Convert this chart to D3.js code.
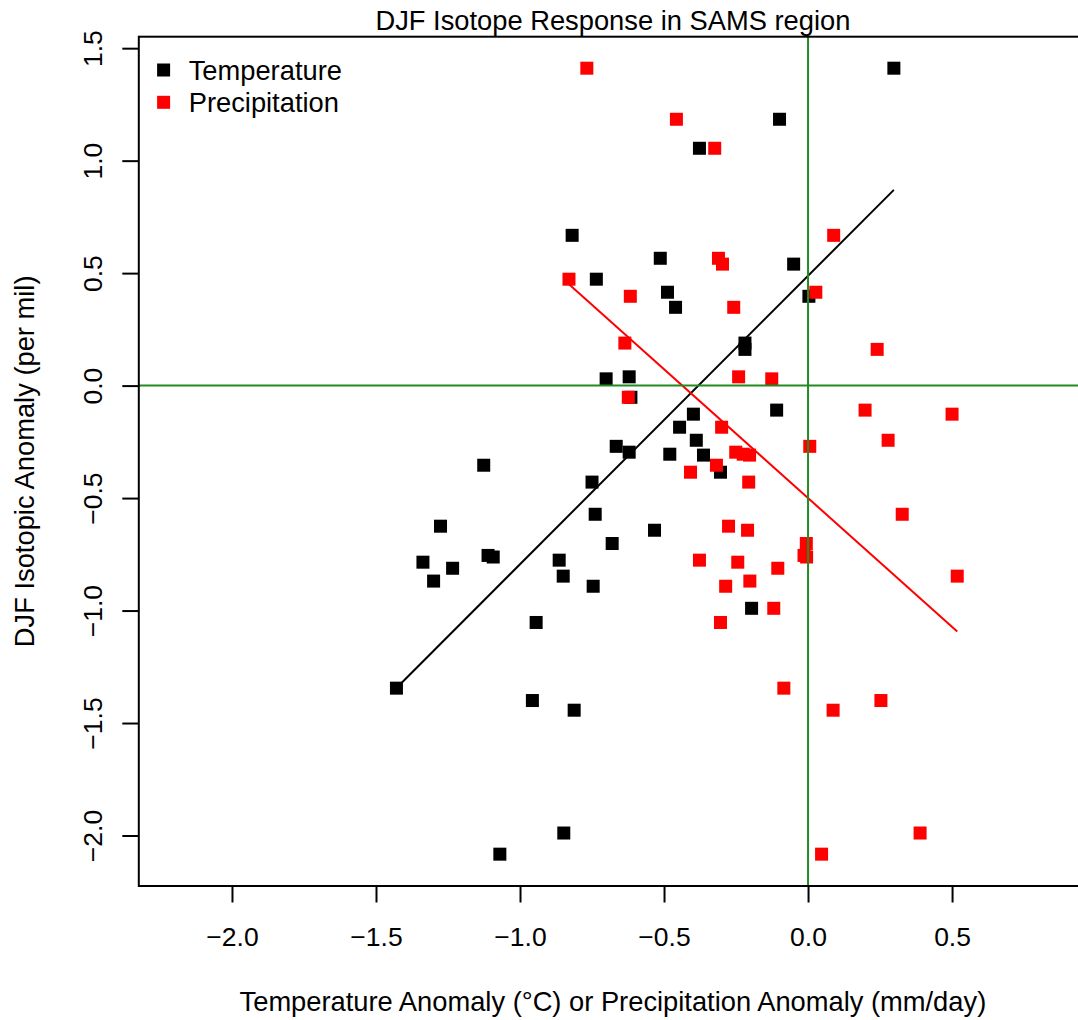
<!DOCTYPE html>
<html>
<head>
<meta charset="utf-8">
<script src="https://cdn.jsdelivr.net/npm/d3@7"></script>
<style>
  html, body { margin: 0; padding: 0; background: #fff; }
  svg { display: block; }
  text { font-family: "Liberation Sans", Arial, Helvetica, sans-serif; fill: #000; }
</style>
</head>
<body>
<svg id="chart" width="1078" height="1020"></svg>
<script>
// ---- data ----
const isotopeAnom = [1.411, 1.184, 1.055, 0.668, 0.566, 0.540, 0.473, 0.415, 0.397, 0.348,
  0.189, 0.161, 0.039, 0.030, -0.052, -0.109, -0.127, -0.185, -0.243, -0.270,
  -0.296, -0.305, -0.309, -0.354, -0.385, -0.429, -0.572, -0.625, -0.643, -0.702,
  -0.755, -0.762, -0.776, -0.785, -0.812, -0.847, -0.869, -0.892, -0.990, -1.053,
  -1.345, -1.400, -1.443, -1.989, -2.083];
const tempAnom = [0.298, -0.099, -0.377, -0.819, -0.513, -0.050, -0.735, -0.488, 0.003, -0.460,
  -0.219, -0.219, -0.621, -0.701, -0.615, -0.109, -0.398, -0.446, -0.388, -0.666,
  -0.621, -0.480, -0.363, -1.126, -0.304, -0.750, -0.739, -1.276, -0.533, -0.680,
  -1.111, -1.093, -0.864, -1.337, -1.234, -0.850, -1.300, -0.746, -0.196, -0.944,
  -1.429, -0.957, -0.812, -0.848, -1.070];
const precipAnom = [-0.768, -0.457, -0.324, 0.089, -0.311, -0.297, -0.830, 0.027, -0.617, -0.258,
  -0.636, 0.240, -0.241, -0.126, -0.624, 0.198, 0.500, -0.300, 0.278, 0.006,
  -0.251, -0.225, -0.203, -0.318, -0.408, -0.206, 0.327, -0.276, -0.210, -0.006,
  -0.014, -0.005, -0.377, -0.244, -0.105, 0.518, -0.202, -0.286, -0.119, -0.304,
  -0.084, 0.253, 0.087, 0.389, 0.047];
// regression fits [intercept, slope]
const tempFit = [0.488, 1.282];
const precipFit = [-0.500, -1.145];
const xTicks = [-2.0, -1.5, -1.0, -0.5, 0.0, 0.5];
const yTicks = [-2.0, -1.5, -1.0, -0.5, 0.0, 0.5, 1.0, 1.5];
const seriesNames = ["Temperature", "Precipitation"];
const seriesColors = ["#000000", "#ff0000"];

// ---- layout ----
const svg = d3.select("#chart");
const L = 138.8, R = 1087, T = 36.7, B = 886;
const x = d3.scaleLinear().domain([-2.3235, 0.9685]).range([L, R]);
const y = d3.scaleLinear().domain([-2.2245, 1.551]).range([B, T]);
const fmt = d3.format(".1f");
const FS = 27.3;   // label / legend / title size
const TFS = 26.5;  // tick label size

// points
const sq = 13;
function drawPts(xs, color) {
  svg.append("g").selectAll("rect")
    .data(xs.map((v, i) => [v, isotopeAnom[i]]))
    .join("rect")
    .attr("x", d => x(d[0]) - sq / 2)
    .attr("y", d => y(d[1]) - sq / 2)
    .attr("width", sq).attr("height", sq)
    .attr("fill", color);
}
drawPts(tempAnom, seriesColors[0]);
drawPts(precipAnom, seriesColors[1]);

// regression lines over data range
function drawFit(xs, fit, color) {
  const [lo, hi] = d3.extent(xs);
  svg.append("line")
    .attr("x1", x(lo)).attr("y1", y(fit[0] + fit[1] * lo))
    .attr("x2", x(hi)).attr("y2", y(fit[0] + fit[1] * hi))
    .attr("stroke", color).attr("stroke-width", 2);
}
drawFit(tempAnom, tempFit, seriesColors[0]);
drawFit(precipAnom, precipFit, seriesColors[1]);

// zero reference lines
svg.append("line").attr("x1", L).attr("x2", R).attr("y1", y(0)).attr("y2", y(0))
  .attr("stroke", "#228B22").attr("stroke-width", 2);
svg.append("line").attr("x1", x(0)).attr("x2", x(0)).attr("y1", T).attr("y2", B)
  .attr("stroke", "#228B22").attr("stroke-width", 2);

// box
svg.append("rect").attr("x", L).attr("y", T).attr("width", R - L).attr("height", B - T)
  .attr("fill", "none").attr("stroke", "#000").attr("stroke-width", 2);

// x axis
const gx = svg.append("g").attr("transform", `translate(0,${B})`)
  .call(d3.axisBottom(x).tickValues(xTicks).tickFormat(fmt).tickSize(16.5).tickSizeOuter(0));
gx.select(".domain").remove();
gx.selectAll(".tick line").attr("stroke", "#000").attr("stroke-width", 2);
gx.selectAll(".tick text").attr("y", 59.7).attr("dy", null)
  .style("font-size", TFS + "px").style("font-family", "Liberation Sans, Arial, sans-serif").attr("fill", "#000");

// y axis
const gy = svg.append("g").attr("transform", `translate(${L},0)`)
  .call(d3.axisLeft(y).tickValues(yTicks).tickFormat(fmt).tickSize(16.5).tickSizeOuter(0));
gy.select(".domain").remove();
gy.selectAll(".tick line").attr("stroke", "#000").attr("stroke-width", 2);
gy.selectAll(".tick text")
  .attr("x", null).attr("dy", null)
  .attr("text-anchor", "middle")
  .attr("transform", "translate(-37.2,0) rotate(-90)")
  .style("font-size", TFS + "px").style("font-family", "Liberation Sans, Arial, sans-serif").attr("fill", "#000");

// title
svg.append("text").attr("x", (L + R) / 2).attr("y", 30).attr("text-anchor", "middle")
  .style("font-size", FS + "px").text("DJF Isotope Response in SAMS region");

// axis labels
svg.append("text").attr("x", (L + R) / 2).attr("y", 1011).attr("text-anchor", "middle")
  .style("font-size", FS + "px")
  .text("Temperature Anomaly (°C) or Precipitation Anomaly (mm/day)");
svg.append("text").attr("transform", `translate(34.4,${(T + B) / 2}) rotate(-90)`)
  .attr("text-anchor", "middle").style("font-size", FS + "px")
  .text("DJF Isotopic Anomaly (per mil)");

// legend
const lg = svg.append("g");
seriesNames.forEach((name, i) => {
  const cy = 70 + i * 32.3;
  lg.append("rect").attr("x", 163.6 - sq / 2).attr("y", cy - sq / 2)
    .attr("width", sq).attr("height", sq).attr("fill", seriesColors[i]);
  lg.append("text").attr("x", 188.7).attr("y", cy + 9.8).style("font-size", FS + "px").text(name);
});
</script>
</body>
</html>
